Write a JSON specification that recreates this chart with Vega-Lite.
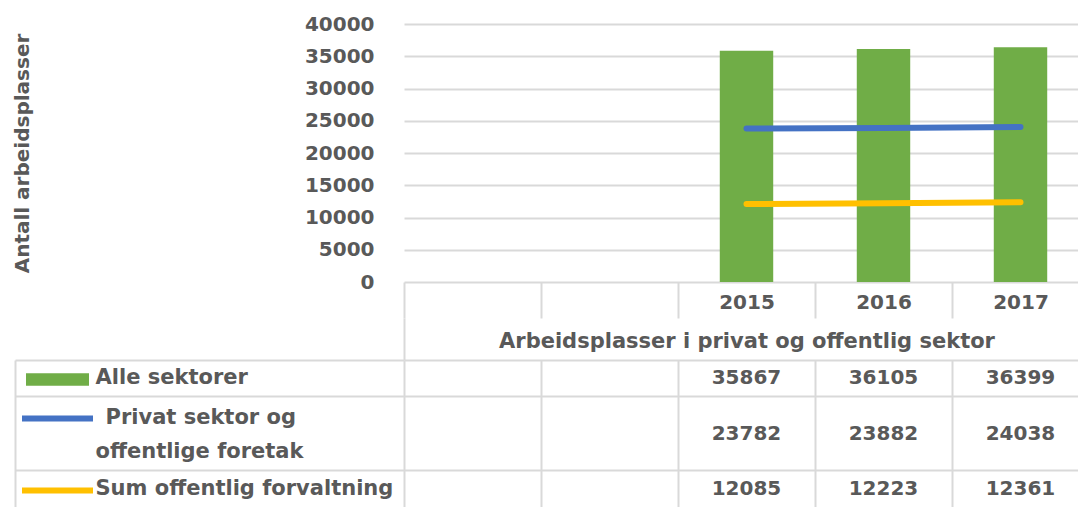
{
  "$schema": "https://vega.github.io/schema/vega-lite/v6.json",
  "background": "white",
  "padding": {"left": 12, "top": 14, "right": 0, "bottom": 0},
  "config": {
    "font": "DejaVu Sans",
    "view": {"stroke": null},
    "axis": {
      "labelFont": "DejaVu Sans",
      "titleFont": "DejaVu Sans",
      "labelColor": "#595959",
      "titleColor": "#595959",
      "labelFontWeight": "bold",
      "titleFontWeight": "bold",
      "gridColor": "#d9d9d9",
      "domainColor": "#d9d9d9",
      "tickColor": "#d9d9d9"
    },
    "legend": {"labelFont": "DejaVu Sans", "labelColor": "#595959"}
  },
  "datasets": {
    "tab": [
      {"serie": "Alle sektorer", "aar": "2015", "antall": 35867},
      {"serie": "Alle sektorer", "aar": "2016", "antall": 36105},
      {"serie": "Alle sektorer", "aar": "2017", "antall": 36399},
      {"serie": "Privat sektor og offentlige foretak", "aar": "2015", "antall": 23782},
      {"serie": "Privat sektor og offentlige foretak", "aar": "2016", "antall": 23882},
      {"serie": "Privat sektor og offentlige foretak", "aar": "2017", "antall": 24038},
      {"serie": "Sum offentlig forvaltning", "aar": "2015", "antall": 12085},
      {"serie": "Sum offentlig forvaltning", "aar": "2016", "antall": 12223},
      {"serie": "Sum offentlig forvaltning", "aar": "2017", "antall": 12361}
    ]
  },
  "bounds": "flush",
  "spacing": 78,
  "vconcat": [
    {
      "width": 673,
      "height": 258,
      "data": {"name": "tab"},
      "encoding": {
        "x": {
          "field": "aar",
          "type": "nominal",
          "scale": {"type": "band", "domain": ["_1", "_2", "2015", "2016", "2017"], "range": [0, 685], "paddingInner": 0, "paddingOuter": 0},
          "axis": {
            "title": "Arbeidsplasser i privat og offentlig sektor",
            "titleFontSize": 21,
            "titlePadding": 11,
            "labelExpr": "substring(datum.value, 0, 1) === '_' ? '' : datum.value",
            "labelAngle": 0,
            "labelFontSize": 20,
            "labelBaseline": "middle",
            "labelPadding": -16,
            "tickOffset": -68.5,
            "labelOffset": 68.5,
            "ticks": true,
            "tickSize": 36,
            "tickWidth": 2,
            "domain": false,
            "grid": false
          }
        },
        "y": {
          "field": "antall",
          "type": "quantitative",
          "scale": {"domain": [0, 40000], "nice": false},
          "axis": {
            "title": "Antall arbeidsplasser",
            "titleFontSize": 20,
            "titlePadding": 272,
            "values": [0, 5000, 10000, 15000, 20000, 25000, 30000, 35000, 40000],
            "format": "d",
            "labelFontSize": 20,
            "labelPadding": 30,
            "domain": false,
            "ticks": false,
            "grid": true,
            "gridWidth": 2
          }
        }
      },
      "layer": [
        {
          "transform": [{"filter": "datum.serie === 'Alle sektorer'"}],
          "mark": {"type": "bar", "width": {"band": 0.39}},
          "encoding": {
            "fill": {
              "field": "serie",
              "type": "nominal",
              "scale": {"domain": ["Alle sektorer"], "range": ["#70ad47"]},
              "legend": {
                "orient": "none",
                "legendX": -378,
                "legendY": 324,
                "title": null,
                "padding": 0,
                "symbolType": "M-1,-0.2H1V0.2H-1Z",
                "symbolSize": 3969,
                "symbolStrokeWidth": 0,
                "symbolOffset": 0,
                "labelExpr": "''"
              }
            }
          }
        },
        {
          "transform": [{"filter": "datum.serie !== 'Alle sektorer'"}],
          "mark": {"type": "line", "strokeWidth": 6, "strokeCap": "round"},
          "encoding": {
            "stroke": {
              "field": "serie",
              "type": "nominal",
              "scale": {"domain": ["Privat sektor og offentlige foretak", "Sum offentlig forvaltning"], "range": ["#4472c4", "#ffc000"]},
              "legend": {
                "orient": "none",
                "legendX": -385,
                "legendY": 356,
                "title": null,
                "padding": 0,
                "direction": "vertical",
                "symbolType": "stroke",
                "symbolSize": 5041,
                "symbolStrokeWidth": 6,
                "symbolOffset": 0,
                "rowPadding": 21,
                "labelExpr": "''"
              }
            }
          }
        }
      ]
    },
    {
      "width": 673,
      "height": 147,
      "data": {"name": "tab"},
      "layer": [
        {
          "transform": [{"filter": "datum.serie !== 'Privat sektor og offentlige foretak'"}],
          "mark": {"type": "text", "fontSize": 20, "fontWeight": "bold", "color": "#595959", "font": "DejaVu Sans"},
          "encoding": {
            "x": {
              "field": "aar",
              "type": "nominal",
              "scale": {"type": "band", "domain": ["_1", "_2", "2015", "2016", "2017"], "range": [0, 685], "paddingInner": 0, "paddingOuter": 0},
              "axis": {"orient": "bottom", "title": null, "values": ["_1", "_2", "2015", "2016", "2017"], "labels": false, "ticks": false, "domain": false, "grid": true, "gridWidth": 2, "bandPosition": 0}
            },
            "y": {
              "field": "serie",
              "type": "nominal",
              "scale": {"type": "band", "domain": ["Alle sektorer", "Privat sektor og offentlige foretak", "", "Sum offentlig forvaltning"], "paddingInner": 0, "paddingOuter": 0},
              "axis": {
                "orient": "left",
                "title": null,
                "labelExpr": "datum.value === 'Privat sektor og offentlige foretak' ? 'Privat sektor og' : (datum.value === '' ? 'offentlige foretak' : datum.value)",
                "labelAlign": "left",
                "labelPadding": {"condition": {"test": "datum.value === 'Privat sektor og offentlige foretak'", "value": 299}, "value": 309},
                "labelOffset": {"condition": {"test": "datum.value === 'Privat sektor og offentlige foretak'", "value": 3}, "value": 0},
                "labelLimit": 0,
                "labelFontSize": 21,
                "ticks": false,
                "domain": false,
                "grid": false
              }
            },
            "text": {"field": "antall", "type": "quantitative", "format": "d"}
          }
        },
        {
          "transform": [{"filter": "datum.serie === 'Privat sektor og offentlige foretak'"}],
          "mark": {"type": "text", "fontSize": 20, "fontWeight": "bold", "color": "#595959", "font": "DejaVu Sans"},
          "encoding": {
            "x": {
              "field": "aar",
              "type": "nominal",
              "scale": {"type": "band", "domain": ["_1", "_2", "2015", "2016", "2017"], "range": [0, 685], "paddingInner": 0, "paddingOuter": 0},
              "axis": {"orient": "top", "title": null, "values": ["_1"], "bandPosition": 0, "labels": false, "ticks": true, "tickSize": 42, "tickWidth": 2, "domain": false, "grid": false}
            },
            "y": {
              "field": "serie",
              "type": "nominal",
              "bandPosition": 1,
              "scale": {"type": "band", "domain": ["Alle sektorer", "Privat sektor og offentlige foretak", "", "Sum offentlig forvaltning"], "paddingInner": 0, "paddingOuter": 0},
              "axis": {
                "orient": "left",
                "title": null,
                "values": ["Alle sektorer", "Privat sektor og offentlige foretak", "Sum offentlig forvaltning"],
                "bandPosition": 0,
                "offset": 389,
                "labels": false,
                "ticks": true,
                "tickSize": -389,
                "tickWidth": 2,
                "domain": true,
                "domainWidth": 2,
                "grid": true,
                "gridWidth": 2
              }
            },
            "text": {"field": "antall", "type": "quantitative", "format": "d"}
          }
        }
      ],
      "resolve": {"axis": {"x": "independent", "y": "independent"}}
    }
  ]
}
